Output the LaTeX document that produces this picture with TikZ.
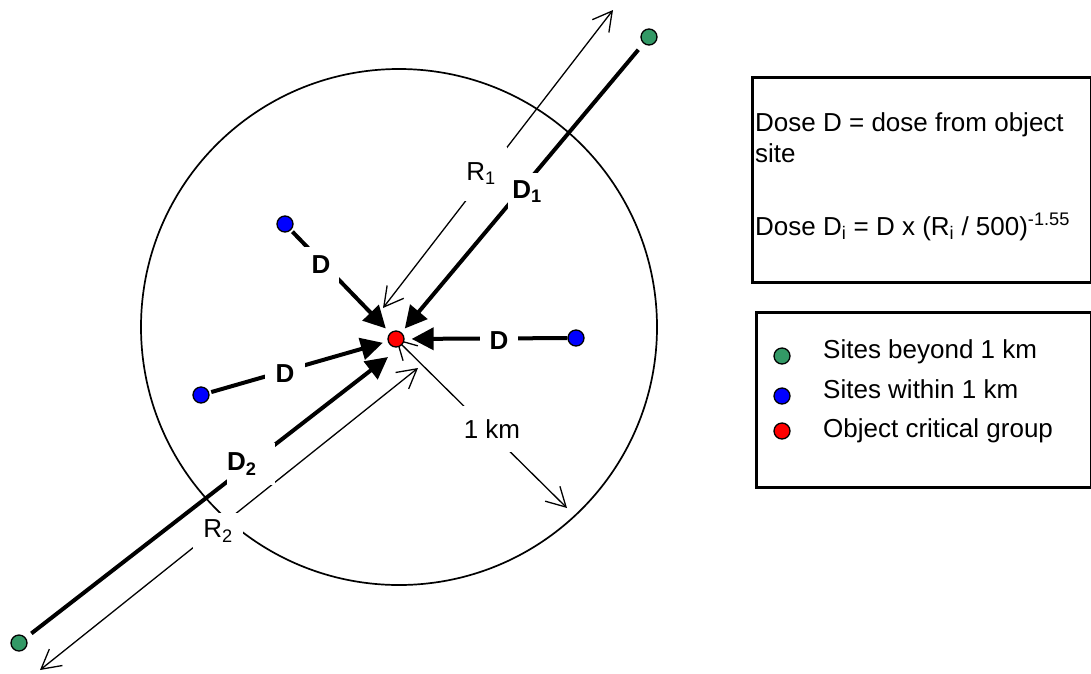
\documentclass[tikz,border=0pt]{standalone}
\usepackage{fontspec}
\setmainfont{Liberation Sans}
\usetikzlibrary{arrows.meta}
\definecolor{sitegreen}{RGB}{51,153,102}
\pgfdeclarelayer{bg}
\pgfsetlayers{bg,main}
\begin{document}
\begin{tikzpicture}[x=1pt,y=-1pt,
  font=\fontsize{26}{31}\selectfont,
  dot/.style={circle,draw=black,line width=1.3pt,inner sep=0pt,minimum size=16pt},
  thickarrow/.style={line width=4pt,-{Triangle[length=22pt,width=22pt]}},
  dimline/.style={line width=1.3pt,{Straight Barb[length=19pt,width=21pt]}-{Straight Barb[length=19pt,width=21pt]}},
  lbl/.style={fill=white,inner sep=0pt},
  boldlbl/.style={lbl,font=\fontsize{26}{31}\selectfont\bfseries},
  infobox/.style={draw=black,line width=3pt,rectangle,inner sep=0pt,anchor=north west},
  txt/.style={anchor=base west,inner sep=0pt}
]
\useasboundingbox (0,0) rectangle (1091,673);

% sites
\node[dot,fill=red] (obj) at (396,339) {};
\node[dot,fill=blue] (b1) at (285,224) {};
\node[dot,fill=blue] (b2) at (201,395) {};
\node[dot,fill=blue] (b3) at (576,338) {};
\node[dot,fill=sitegreen] (g1) at (649,37) {};
\node[dot,fill=sitegreen] (g2) at (19,643) {};

\coordinate (r1a) at (613,10);
\coordinate (r1b) at (383,308);
\coordinate (r2a) at (418,368);
\coordinate (r2b) at (40,670);
\coordinate (km) at (567,508);
\coordinate (d2tip) at (388,357);

\begin{pgfonlayer}{bg}
  \node[circle,draw=black,line width=1.7pt,inner sep=0pt,minimum size=516pt] (zone) at (399,327) {};
  \draw[dimline] (r1a) -- (r1b);
  \draw[dimline] (r2a) -- (r2b);
  \draw[dimline] (obj.center) -- (km);
  \draw[thickarrow,shorten <=2pt,shorten >=6pt] (b1) -- (obj);
  \draw[thickarrow,shorten <=2pt,shorten >=5pt] (b2) -- (obj);
  \draw[thickarrow,shorten >=7pt] (b3) -- (obj);
  \draw[thickarrow,shorten <=8pt,shorten >=5pt] (g1) -- (obj);
  \draw[thickarrow,shorten <=7pt] (g2) -- (d2tip);
\end{pgfonlayer}

% labels on the connectors
\node[lbl,minimum width=51pt,minimum height=54pt] (lr1) at (481,174) {R\textsubscript{1}};
\node[boldlbl,minimum width=38pt,minimum height=38pt] (ld1) at (527,192) {D\textsubscript{1}};
\node[boldlbl,minimum width=36pt,minimum height=36pt] (ldb1) at (321,265) {D};
\node[boldlbl,minimum width=40pt,minimum height=36pt] (ldb2) at (285,374) {D};
\node[boldlbl,minimum width=38pt,minimum height=36pt] (ldb3) at (499,341) {D};
\node[boldlbl,text width=48pt,align=left,minimum height=42pt] (ld2) at (251,464) {D\textsubscript{2}};
\node[lbl,minimum width=50pt,minimum height=37pt] (lr2) at (218,531) {R\textsubscript{2}};
\node[lbl,minimum width=58pt,minimum height=46pt] (lkm) at (492,429) {1 km};

% info box
\node[infobox,minimum width=338.5pt,minimum height=205pt] (info) at (751,75.5) {};
\node[txt] (i1) at (755,131) {Dose D = dose from object};
\node[txt] (i2) at (755,162) {site};
\node[txt] (i3) at (755,235) {Dose D\textsubscript{i} = D x (R\textsubscript{i} / 500)\textsuperscript{-1.55}};

% legend
\node[infobox,minimum width=335pt,minimum height=174.5pt] (legend) at (754.5,311) {};
\node[dot,fill=sitegreen] (lg) at (782,356) {};
\node[dot,fill=blue] (lb) at (782,396) {};
\node[dot,fill=red] (lr) at (782,431) {};
\node[txt] (tg) at (823,358) {Sites beyond 1 km};
\node[txt] (tb) at (823,398) {Sites within 1 km};
\node[txt] (tr) at (823,437) {Object critical group};
\end{tikzpicture}
\end{document}
